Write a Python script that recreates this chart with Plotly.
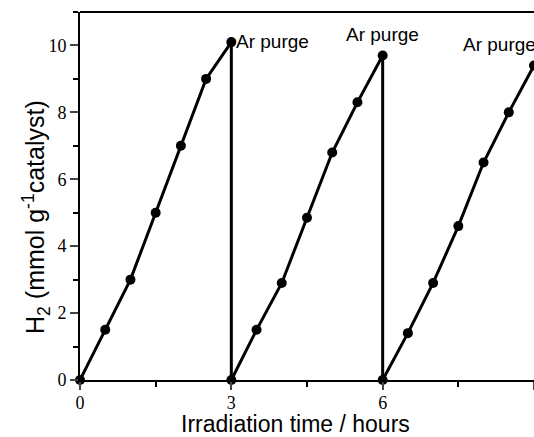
import plotly.graph_objects as go

# Cycle data (hours, mmol g^-1 catalyst)
cycle1_t = [0, 0.5, 1.0, 1.5, 2.0, 2.5, 3.0]
cycle1_h2 = [0, 1.5, 3.0, 5.0, 7.0, 9.0, 10.1]
cycle2_t = [3.0, 3.5, 4.0, 4.5, 5.0, 5.5, 6.0]
cycle2_h2 = [0, 1.5, 2.9, 4.85, 6.8, 8.3, 9.7]
cycle3_t = [6.0, 6.5, 7.0, 7.5, 8.0, 8.5, 9.0]
cycle3_h2 = [0, 1.4, 2.9, 4.6, 6.5, 8.0, 9.4]
purge_label = "Ar purge"
x_ticks = [0, 3, 6, 9]
y_ticks = [0, 2, 4, 6, 8, 10]

fig = go.Figure()
black = "#000000"
for t, h in [(cycle1_t, cycle1_h2), (cycle2_t, cycle2_h2), (cycle3_t, cycle3_h2)]:
    fig.add_trace(go.Scatter(x=t, y=h, mode="lines+markers",
                             line=dict(color=black, width=3),
                             marker=dict(color=black, size=10),
                             showlegend=False, cliponaxis=False))
# vertical purge drops
for t, h in [(cycle1_t, cycle1_h2), (cycle2_t, cycle2_h2)]:
    fig.add_trace(go.Scatter(x=[t[-1], t[-1]], y=[h[-1], 0], mode="lines",
                             line=dict(color=black, width=3),
                             showlegend=False))

ann_font = dict(family="Liberation Sans, Arial", size=19, color=black)
fig.add_annotation(x=cycle1_t[-1], y=cycle1_h2[-1], text=purge_label, showarrow=False,
                   xanchor="left", xshift=3, yshift=1, font=ann_font)
fig.add_annotation(x=cycle2_t[-1], y=cycle2_h2[-1], text=purge_label, showarrow=False,
                   xanchor="center", yshift=21, font=ann_font)
fig.add_annotation(x=cycle3_t[-1], y=cycle3_h2[-1], text=purge_label, showarrow=False,
                   xanchor="left", xshift=-73, yshift=21, font=ann_font)

fig.add_annotation(xref="paper", yref="paper", x=0.474, y=-0.119, yanchor="middle",
                   text="Irradiation time / hours", showarrow=False,
                   font=dict(family="Liberation Sans, Arial", size=23, color=black))
fig.add_annotation(xref="paper", yref="paper", x=-0.097, y=0.443, xanchor="center",
                   yanchor="middle", textangle=-90,
                   text="H<sub>2</sub> (mmol g<sup>-1</sup>catalyst)", showarrow=False,
                   font=dict(family="Liberation Sans, Arial", size=25, color=black))

fig.add_shape(type="line", xref="paper", yref="paper", x0=0, x1=1, y0=1, y1=1,
              line=dict(color=black, width=2))

tick_font = dict(family="Liberation Serif, DejaVu Serif, serif", size=18, color=black)
fig.update_xaxes(range=[0, 9], tickvals=x_ticks, ticks="outside", ticklen=8, tickwidth=1.5,
                 showline=True, linecolor=black, linewidth=2, showgrid=False, zeroline=False,
                 tickfont=tick_font, ticklabelstandoff=-3,
                 minor=dict(dtick=1.5, tick0=0, ticks="outside", ticklen=5, tickwidth=1.5,
                            tickcolor=black, showgrid=False))
fig.update_yaxes(range=[0, 11], tickvals=y_ticks, ticks="outside", ticklen=8, tickwidth=1.5,
                 showline=True, linecolor=black, linewidth=2, showgrid=False, zeroline=False,
                 tickfont=tick_font,
                 minor=dict(dtick=1, tick0=0, ticks="outside", ticklen=5, tickwidth=1.5,
                            tickcolor=black, showgrid=False))

fig.update_layout(width=534, height=437, margin=dict(l=80, r=0, t=12, b=57),
                  plot_bgcolor="white", paper_bgcolor="white")
fig.write_html("out.html", config={"displayModeBar": False},
               post_script="document.body.style.margin='0';")
